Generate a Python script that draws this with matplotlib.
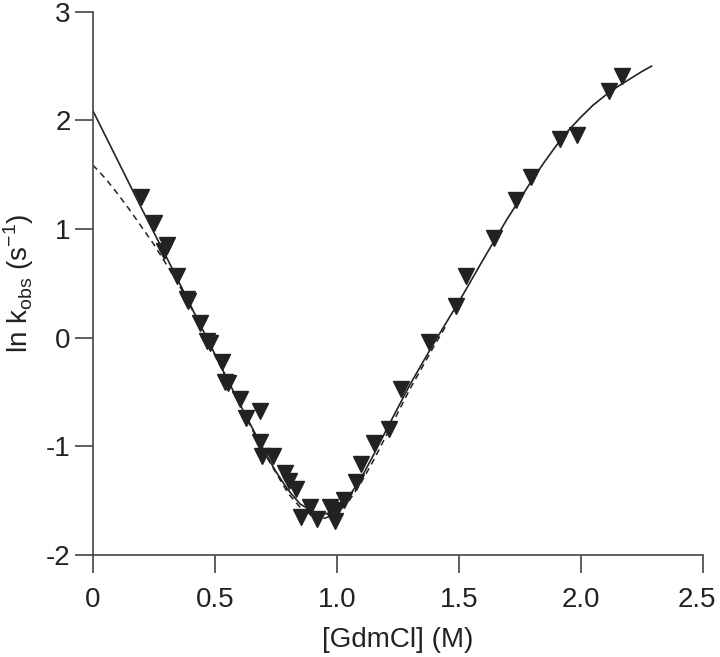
import numpy as np
import matplotlib.pyplot as plt
import matplotlib.transforms as mtransforms

plt.rcParams['font.family'] = ['Liberation Sans', 'DejaVu Sans']

# measured rate constants (triangles)
gdm = [0.199, 0.251, 0.302, 0.291, 0.343, 0.384, 0.388, 0.438, 0.469, 0.482,
       0.531, 0.541, 0.555, 0.605, 0.627, 0.684, 0.687, 0.695, 0.739, 0.787,
       0.805, 0.832, 0.855, 0.889, 0.917, 0.971, 0.992, 0.998, 1.029, 1.078,
       1.100, 1.154, 1.212, 1.265, 1.376, 1.488, 1.529, 1.643, 1.734, 1.798,
       1.914, 1.985, 2.116, 2.170]
lnk = [1.30, 1.06, 0.856, 0.80, 0.57, 0.356, 0.34, 0.14, -0.03, -0.05,
       -0.22, -0.41, -0.42, -0.56, -0.74, -0.67, -0.955, -1.09, -1.09, -1.24,
       -1.32, -1.39, -1.65, -1.56, -1.67, -1.56, -1.69, -1.58, -1.49, -1.33,
       -1.16, -0.97, -0.84, -0.47, -0.04, 0.29, 0.57, 0.92, 1.27, 1.48,
       1.83, 1.87, 2.27, 2.41]

# fit curves
fit_x = [0, 0.1, 0.2, 0.3, 0.4, 0.5, 0.6, 0.7, 0.75, 0.8, 0.85, 0.9, 0.925,
         0.95, 0.975, 1.0, 1.05, 1.1, 1.15, 1.2, 1.3, 1.4, 1.5, 1.6, 1.7,
         1.8, 1.85, 1.9, 1.95, 2.0, 2.05, 2.1, 2.15, 2.2, 2.25, 2.29]
fit_y = [2.09, 1.64, 1.19, 0.75, 0.30, -0.15, -0.60, -1.03, -1.23, -1.40,
         -1.53, -1.595, -1.615, -1.62, -1.61, -1.58, -1.46, -1.29, -1.08,
         -0.86, -0.43, -0.04, 0.33, 0.72, 1.10, 1.45, 1.615, 1.77, 1.91,
         2.03, 2.14, 2.23, 2.31, 2.38, 2.45, 2.50]

dash_x = [0, 0.05, 0.1, 0.15, 0.2, 0.25, 0.3, 0.35, 0.4, 0.5, 0.6, 0.7, 0.8,
          0.85, 0.9, 0.95, 1.0, 1.05, 1.1, 1.15, 1.2, 1.3, 1.4, 1.45]
dash_y = [1.59, 1.47, 1.33, 1.18, 1.02, 0.86, 0.68, 0.50, 0.29, -0.16, -0.61,
          -1.05, -1.43, -1.56, -1.64, -1.66, -1.62, -1.50, -1.33, -1.13, -0.91,
          -0.47, -0.07, 0.12]

fig = plt.figure(figsize=(7.2, 6.57), dpi=100)
ax = fig.add_axes([0.129, 0.155, 0.847, 0.827])

ax.plot(dash_x, dash_y, '--', color='#222222', lw=1.1, dashes=(4, 3))
ax.plot(fit_x, fit_y, '-', color='#222222', lw=1.2)
ax.plot(gdm, lnk, 'v', color='#222222', ms=11, mec='#222222')

ax.set_xlim(0, 2.5)
ax.set_ylim(-2, 3)
ax.set_xticks([0, 0.5, 1.0, 1.5, 2.0, 2.5])
ax.set_xticklabels(['0', '0.5', '1.0', '1.5', '2.0', '2.5'])
ax.set_yticks([-2, -1, 0, 1, 2, 3])
ax.set_yticklabels(['-2', '-1', '0', '1', '2', '3'])

for s in ['top', 'right']:
    ax.spines[s].set_visible(False)
for s in ['left', 'bottom']:
    ax.spines[s].set_color('#444444')
    ax.spines[s].set_linewidth(1.2)
ax.tick_params(direction='out', length=13, width=1.2, color='#444444',
               labelsize=20, labelcolor='#222222')
ax.tick_params(axis='x', pad=10)
ax.tick_params(axis='y', pad=3)

# nudge the last x label so it stays inside the canvas
last = ax.get_xticklabels()[-1]
last.set_transform(last.get_transform() +
                   mtransforms.ScaledTranslation(-4 / 72, 0, fig.dpi_scale_trans))

ax.set_xlabel('[GdmCl] (M)', fontsize=20, color='#222222', labelpad=10)
ax.set_ylabel(r'ln k$_\mathregular{obs}$ (s$^\mathregular{-1}$)', fontsize=20,
              color='#222222', labelpad=7)

fig.savefig('out.png', dpi=100)
